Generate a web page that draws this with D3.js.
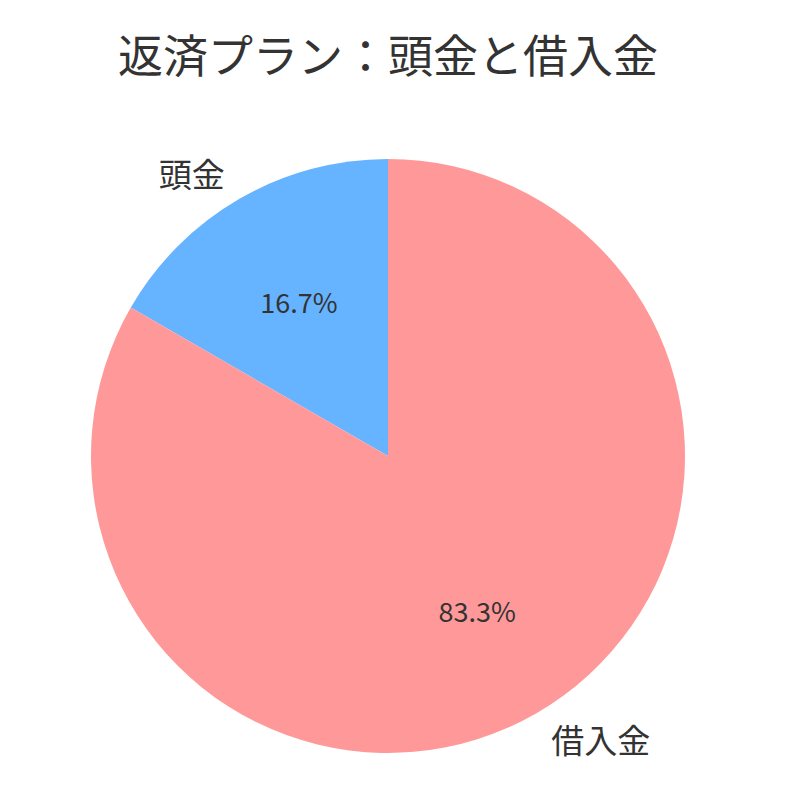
<!DOCTYPE html>
<html>
<head>
<meta charset="utf-8">
<script src="https://cdn.jsdelivr.net/npm/d3@7"></script>
<style>
  html, body { margin: 0; padding: 0; background: #fff; }
  svg { display: block; }
  text { font-family: "Noto Sans CJK JP", "Noto Sans", sans-serif; fill: #333; }
</style>
</head>
<body>
<svg id="chart" width="788" height="805"></svg>
<script>
// Repayment plan: down payment vs. loan amount
const categories = ["頭金", "借入金"];
const amounts = [500, 2500];
const colors = ["#66b3ff", "#ff9999"];
const titleText = "返済プラン：頭金と借入金";

const width = 788, height = 805;
const cx = 388, cy = 456, radius = 297;

const svg = d3.select("#chart");

svg.append("text")
  .attr("x", cx)
  .attr("y", 53)
  .attr("text-anchor", "middle")
  .attr("dominant-baseline", "central")
  .style("font-size", "45px")
  .text(titleText);

const data = categories.map((c, i) => ({ name: c, value: amounts[i], color: colors[i] }));

// counter-clockwise from 12 o'clock
const pie = d3.pie()
  .value(d => d.value)
  .sort(null)
  .startAngle(0)
  .endAngle(-2 * Math.PI);

const arcs = pie(data);
const total = d3.sum(amounts);

const arc = d3.arc().innerRadius(0).outerRadius(radius);

const g = svg.append("g").attr("transform", `translate(${cx},${cy})`);

g.selectAll("path.slice")
  .data(arcs)
  .join("path")
  .attr("class", "slice")
  .attr("d", arc)
  .attr("fill", d => d.data.color);

const mid = d => (d.startAngle + d.endAngle) / 2;

// category labels outside the pie
g.selectAll("text.label")
  .data(arcs)
  .join("text")
  .attr("class", "label")
  .attr("x", d => Math.sin(mid(d)) * radius * 1.1)
  .attr("y", d => -Math.cos(mid(d)) * radius * 1.1)
  .attr("text-anchor", d => Math.sin(mid(d)) < 0 ? "end" : "start")
  .attr("dominant-baseline", "central")
  .style("font-size", "33px")
  .text(d => d.data.name);

// percentages inside the slices
g.selectAll("text.pct")
  .data(arcs)
  .join("text")
  .attr("class", "pct")
  .attr("x", d => Math.sin(mid(d)) * radius * 0.6)
  .attr("y", d => -Math.cos(mid(d)) * radius * 0.6)
  .attr("text-anchor", "middle")
  .attr("dominant-baseline", "central")
  .style("font-size", "27px")
  .text(d => (d.data.value / total * 100).toFixed(1) + "%");
</script>
</body>
</html>
